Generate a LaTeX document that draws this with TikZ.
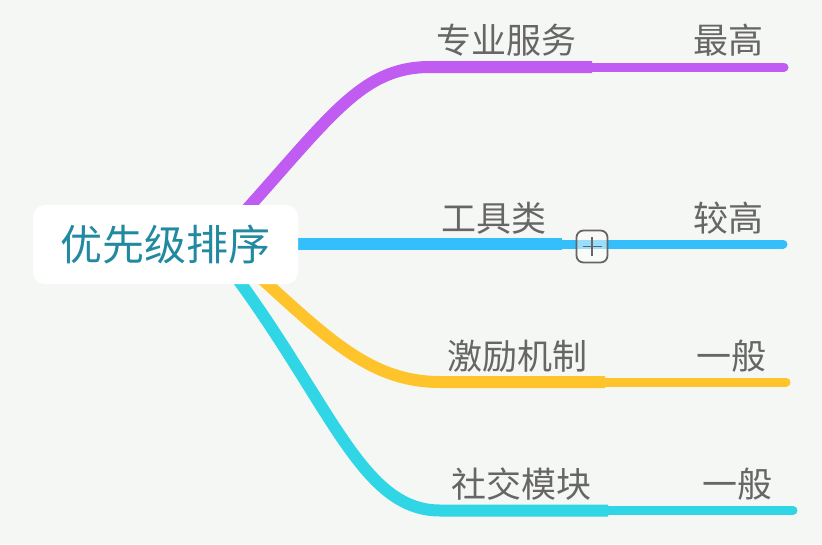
\documentclass[tikz,border=0pt]{standalone}
\usepackage{fontspec}
\newfontfamily\cjk{Noto Sans CJK SC}
\definecolor{bgc}{RGB}{245,247,244}
\definecolor{rootc}{RGB}{33,138,160}
\definecolor{labc}{RGB}{102,102,102}
\definecolor{purp}{RGB}{192,92,242}
\definecolor{bluec}{RGB}{52,190,252}
\definecolor{yelc}{RGB}{255,196,44}
\definecolor{cyanc}{RGB}{48,214,230}
\tikzset{
  thickbr/.style={line width=12pt},
  thinbr/.style={line width=9pt, line cap=round},
  lab/.style={font=\cjk\fontsize{35}{40}\selectfont, text=labc, inner sep=0pt},
}
\begin{document}
\begin{tikzpicture}[x=1pt,y=-1pt]
\fill[bgc] (0,0) rectangle (822,544);
\useasboundingbox (0,0) rectangle (822,544);
% coordinates
\coordinate (ps) at (230,228);
\coordinate (pm) at (592,67);
\coordinate (pe) at (784,67);
\coordinate (bs) at (250,244);
\coordinate (bm) at (562,244);
\coordinate (be) at (783,244);
\coordinate (ys) at (250,268);
\coordinate (ym) at (605,382);
\coordinate (ye) at (786,382);
\coordinate (cs) at (225,262);
\coordinate (cm) at (608,510.5);
\coordinate (ce) at (793,510.5);
% branches
\draw[purp,thickbr] (ps) .. controls (330,118) and (360,67) .. (430,67) -- (pm);
\draw[purp,thinbr] (pm) -- (pe);
\draw[bluec,thickbr] (bs) -- (bm);
\draw[bluec,thinbr] (bm) -- (be);
\draw[yelc,thickbr] (ys) .. controls (327,338) and (370,382) .. (440,382) -- (ym);
\draw[yelc,thinbr] (ym) -- (ye);
\draw[cyanc,thickbr] (cs) .. controls (330,400) and (360,510.5) .. (440,510.5) -- (cm);
\draw[cyanc,thinbr] (cm) -- (ce);
% root
\node[fill=white, rounded corners=12pt, minimum width=265pt, minimum height=79pt, inner sep=0pt,
  font=\cjk\fontsize{42}{48}\selectfont, text=rootc] (root) at (165.5,244.5) {优先级排序};
% plus icon
\node[draw=labc, line width=1.8pt, fill=white, fill opacity=0.5, draw opacity=1, rounded corners=7pt,
  minimum width=31pt, minimum height=32pt, inner sep=0pt] (plus) at (592,246.5) {};
\draw[labc, line width=1.8pt] ([xshift=-9.5pt]plus.center) -- ([xshift=9.5pt]plus.center);
\draw[labc, line width=1.8pt] ([yshift=-9.5pt]plus.center) -- ([yshift=9.5pt]plus.center);
% labels
\node[lab] (l1) at (506,40) {专业服务};
\node[lab] (v1) at (728.5,40) {最高};
\node[lab] (l2) at (494,218) {工具类};
\node[lab] (v2) at (728.5,218) {较高};
\node[lab] (l3) at (517,356) {激励机制};
\node[lab] (v3) at (731.5,356) {一般};
\node[lab] (l4) at (521.5,484) {社交模块};
\node[lab] (v4) at (737.5,484) {一般};
\end{tikzpicture}
\end{document}
